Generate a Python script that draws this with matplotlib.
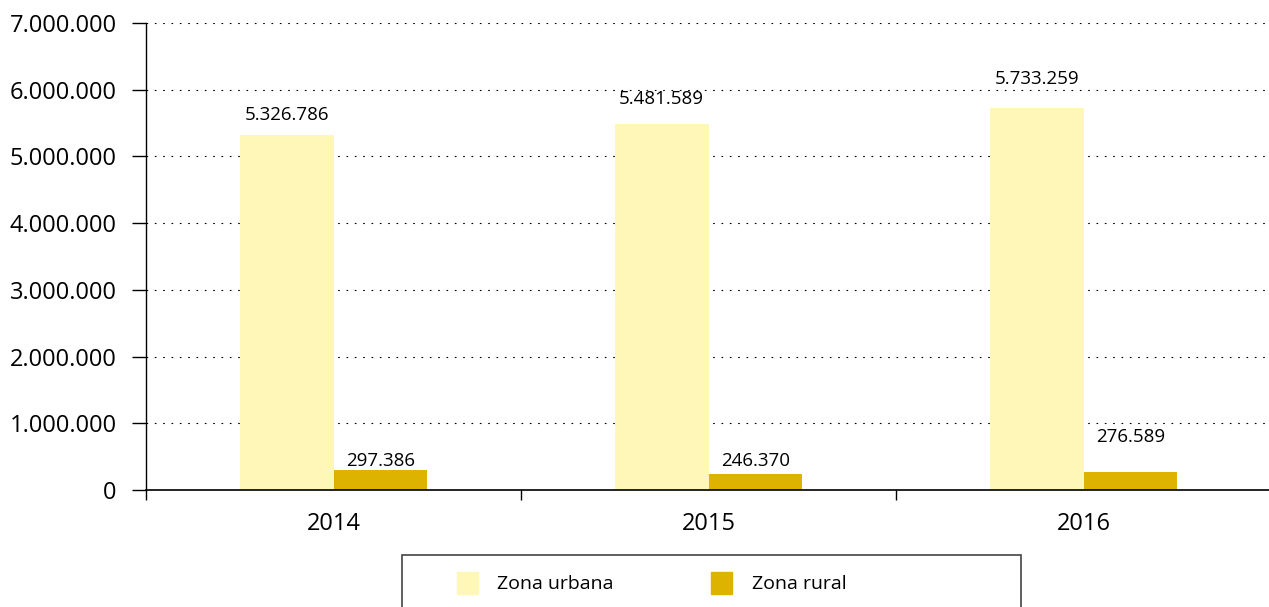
import matplotlib.pyplot as plt
from matplotlib.patches import Patch, Rectangle
from matplotlib.ticker import FuncFormatter

plt.rcParams['font.family'] = ['Open Sans', 'DejaVu Sans']

years = ['2014', '2015', '2016']
urbana = [5326786, 5481589, 5733259]
rural = [297386, 246370, 276589]

color_urbana = '#FFF7B7'
color_rural = '#DDB300'

# vertical offsets (pixels) of the value labels above each bar
off_urbana = [20, 25, 29]
off_rural = [9, 13, 35]


def miles(v, pos=None):
    return f'{int(round(v)):,}'.replace(',', '.')


fig = plt.figure(figsize=(12.69, 6.07), dpi=100)
ax = fig.add_axes([146 / 1269, 117 / 607, 1125 / 1269, 467 / 607])

x = list(range(len(years)))
w = 0.25
bars_u = ax.bar([i - w / 2 for i in x], urbana, width=w, color=color_urbana, zorder=2)
bars_r = ax.bar([i + w / 2 for i in x], rural, width=w, color=color_rural, zorder=2)

for bars, vals, offs in ((bars_u, urbana, off_urbana), (bars_r, rural, off_rural)):
    for b, v, o in zip(bars, vals, offs):
        ax.annotate(miles(v), (b.get_x() + b.get_width() / 2, v),
                    xytext=(0, o), textcoords='offset pixels',
                    ha='center', va='center', fontsize=13.5, color='black')

ax.set_xlim(-0.5, 2.5)
ax.set_ylim(0, 7000000)
ax.set_yticks(range(0, 7000001, 1000000))
ax.yaxis.set_major_formatter(FuncFormatter(miles))
ax.set_xticks([-0.5, 0.5, 1.5, 2.5])
ax.set_xticklabels([])
ax.set_xticks(x, minor=True)
ax.set_xticklabels(years, minor=True)
ax.tick_params(axis='x', which='minor', length=0, pad=16, labelsize=17)
ax.tick_params(axis='x', which='major', length=7, width=1)
ax.tick_params(axis='y', length=10, width=1, pad=11, labelsize=17)

ax.grid(axis='y', color='black', linestyle=(0, (1.5, 6)), linewidth=0.8, zorder=0)
for s in ('top', 'right'):
    ax.spines[s].set_visible(False)
ax.spines['left'].set_linewidth(1)
ax.spines['bottom'].set_linewidth(1.2)
ax.spines['left'].set_bounds(0, 7000000)

# legend box, running past the bottom edge
fig.add_artist(Rectangle((402 / 1269, -0.05), 619 / 1269, (607 - 555) / 607 + 0.05,
                         transform=fig.transFigure, fill=False,
                         edgecolor='#444444', linewidth=1.2))
handles = [Patch(color=color_urbana, label='Zona urbana'),
           Patch(color=color_rural, label='Zona rural')]
fig.legend(handles=handles, loc='center left', bbox_to_anchor=(439 / 1269, 1 - 583 / 607),
           ncol=2, frameon=False, fontsize=14, handlelength=1.1, handleheight=1.4,
           handletextpad=1.0, columnspacing=5.0)

fig.savefig('out.png', dpi=100)
